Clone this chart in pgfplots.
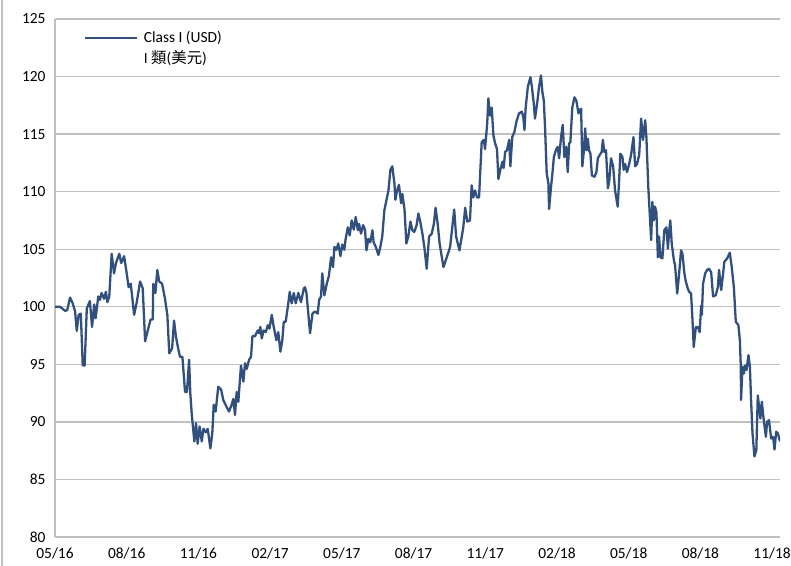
\documentclass[border=0pt]{standalone}
\usepackage{fontspec}
\setmainfont{Carlito}
\newfontfamily\cjk{Noto Sans CJK TC}
\usepackage{pgfplots}
\pgfplotsset{compat=1.18}
\definecolor{lineblue}{RGB}{50,80,125}
\definecolor{gridgray}{RGB}{192,192,192}
\pgfplotstableread{
x y
0.00 100.0
0.21 100.0
0.42 99.65
0.51 99.7
0.63 100.8
0.74 100.3
0.84 99.6
0.91 97.9
0.99 99.3
1.08 99.4
1.16 94.9
1.24 94.9
1.33 99.85
1.46 100.5
1.55 98.25
1.64 100.2
1.70 99.0
1.81 100.9
1.88 100.6
1.95 101.2
2.05 100.7
2.13 101.3
2.19 100.4
2.27 100.9
2.37 104.6
2.47 102.9
2.55 103.8
2.69 104.6
2.77 103.8
2.89 104.4
3.00 102.9
3.08 101.7
3.17 102.0
3.31 99.3
3.42 100.4
3.56 102.2
3.67 101.6
3.77 97.0
3.90 98.1
4.00 98.9
4.09 98.9
4.11 102.0
4.20 101.2
4.28 103.2
4.36 102.2
4.48 102.0
4.60 100.7
4.70 99.3
4.78 95.95
4.90 96.4
4.98 98.8
5.06 97.4
5.16 96.3
5.23 95.65
5.33 95.65
5.44 92.6
5.52 92.6
5.61 95.4
5.66 92.5
5.72 90.7
5.83 88.3
5.90 89.9
5.97 88.1
6.05 89.6
6.14 88.3
6.21 89.4
6.31 89.1
6.39 89.4
6.50 87.7
6.58 89.0
6.64 91.5
6.72 90.9
6.83 93.05
6.95 92.8
7.04 91.9
7.18 91.3
7.28 90.9
7.39 91.5
7.46 92.0
7.53 90.6
7.60 92.6
7.67 91.75
7.78 94.9
7.88 93.5
7.95 95.1
8.02 94.6
8.12 95.4
8.20 95.65
8.26 97.45
8.37 97.45
8.48 97.95
8.54 97.7
8.59 98.25
8.65 97.25
8.73 97.95
8.82 97.8
8.90 98.4
8.97 98.1
9.07 99.3
9.15 98.25
9.26 97.1
9.34 97.8
9.43 96.1
9.51 97.1
9.57 98.7
9.65 98.7
9.74 100.0
9.82 101.3
9.90 100.3
9.99 101.2
10.07 100.3
10.18 101.2
10.29 100.4
10.41 101.6
10.46 101.7
10.52 101.2
10.67 97.7
10.77 99.4
10.88 99.6
10.99 99.4
11.05 100.6
11.13 100.9
11.18 102.9
11.27 101.0
11.37 102.0
11.46 102.7
11.55 104.3
11.63 103.45
11.69 105.2
11.77 104.95
11.85 105.5
11.94 104.4
12.02 105.4
12.10 104.95
12.16 105.9
12.25 106.9
12.33 106.2
12.41 107.5
12.50 106.7
12.58 107.8
12.67 106.65
12.72 107.2
12.80 106.35
12.89 107.1
12.97 106.65
13.03 104.9
13.11 105.9
13.19 105.6
13.28 106.65
13.33 105.6
13.42 105.2
13.53 104.5
13.61 105.2
13.69 106.1
13.78 108.4
13.88 109.4
13.95 110.1
14.03 111.9
14.11 112.2
14.20 110.7
14.24 109.3
14.31 110.1
14.39 110.6
14.48 109.0
14.53 109.8
14.62 108.5
14.70 105.5
14.78 106.1
14.87 107.4
14.95 106.65
15.03 106.5
15.13 107.1
15.20 108.1
15.28 107.4
15.37 106.35
15.45 105.2
15.55 103.3
15.65 106.1
15.76 106.35
15.85 107.2
15.92 108.6
16.01 107.2
16.09 105.5
16.25 103.45
16.39 104.3
16.53 105.2
16.70 108.45
16.78 106.1
16.92 104.9
17.08 106.9
17.16 108.6
17.25 107.4
17.36 107.5
17.43 110.55
17.50 109.5
17.57 110.1
17.66 109.5
17.74 109.5
17.85 114.3
17.94 114.5
17.99 113.7
18.08 115.9
18.13 118.1
18.20 116.6
18.27 117.3
18.34 114.9
18.41 114.2
18.49 113.7
18.55 111.1
18.63 111.9
18.72 112.6
18.77 112.05
18.83 113.45
18.91 113.6
19.00 114.5
19.05 112.2
19.13 114.75
19.22 115.2
19.30 116.05
19.41 116.8
19.53 116.95
19.59 116.5
19.64 115.35
19.69 117.3
19.78 119.1
19.89 119.95
19.95 119.1
20.03 117.65
20.08 116.35
20.17 117.65
20.25 119.1
20.33 120.1
20.39 118.65
20.45 117.9
20.50 115.6
20.57 111.6
20.64 110.7
20.67 108.5
20.75 110.4
20.81 111.6
20.87 113.0
20.95 113.6
21.03 113.9
21.09 112.9
21.17 114.75
21.24 115.8
21.31 113.0
21.39 113.9
21.45 111.7
21.51 114.2
21.56 114.3
21.64 117.3
21.73 118.2
21.81 117.9
21.90 116.8
21.95 117.1
22.01 117.2
22.06 112.2
22.12 113.45
22.18 115.5
22.23 113.6
22.29 114.6
22.34 113.6
22.40 113.3
22.46 111.4
22.57 111.3
22.65 111.7
22.71 112.9
22.79 113.2
22.87 113.45
22.92 114.5
22.98 113.45
23.05 113.6
23.13 110.3
23.19 111.0
23.26 112.9
23.35 112.2
23.43 110.1
23.54 108.7
23.60 111.0
23.65 113.3
23.74 113.0
23.79 111.9
23.85 112.4
23.93 111.7
24.02 112.4
24.10 113.2
24.20 114.75
24.27 112.2
24.35 112.4
24.44 113.2
24.52 116.35
24.60 114.5
24.69 116.2
24.74 114.75
24.82 110.4
24.88 108.1
24.94 105.8
24.99 109.1
25.05 107.5
25.10 108.7
25.16 108.2
25.22 104.3
25.27 106.1
25.33 104.3
25.41 104.2
25.49 106.65
25.58 106.9
25.64 105.05
25.69 106.5
25.74 107.5
25.80 105.5
25.89 104.05
25.94 103.6
26.03 101.15
26.11 102.9
26.19 104.9
26.25 104.6
26.33 102.9
26.39 102.2
26.47 101.6
26.53 101.3
26.61 101.15
26.67 98.8
26.72 96.5
26.81 98.25
26.89 98.25
26.97 97.8
27.03 100.1
27.06 99.3
27.11 102.0
27.20 102.9
27.28 103.2
27.36 103.3
27.45 103.0
27.53 100.9
27.64 101.0
27.73 101.7
27.78 103.2
27.87 101.45
27.95 102.9
28.00 103.9
28.12 104.2
28.23 104.7
28.31 103.45
28.40 101.7
28.48 98.7
28.59 98.4
28.65 97.1
28.69 94.8
28.70 91.9
28.76 94.8
28.82 94.2
28.87 94.9
28.93 94.5
29.01 95.8
29.07 94.8
29.12 91.9
29.18 89.0
29.26 87.0
29.34 87.55
29.40 92.3
29.46 91.2
29.51 90.3
29.57 91.75
29.65 90.15
29.74 88.7
29.79 90.0
29.87 90.15
29.96 88.55
30.04 88.7
30.10 87.6
30.17 89.15
30.24 89.0
30.33 88.3
}\navdata
\begin{document}
\begin{tikzpicture}[font=\fontsize{15}{18}\selectfont]
\useasboundingbox (0,0) rectangle (791bp,566bp);
\draw[gridgray, line width=1.2pt] (2bp,0) -- (2bp,566bp);
\begin{axis}[
  at={(55bp,29bp)}, anchor=south west,
  scale only axis, width=725bp, height=518bp,
  xmin=0, xmax=30.33, ymin=80, ymax=125,
  xtick={0,3,...,30},
  xticklabels={05/16,08/16,11/16,02/17,05/17,08/17,11/17,02/18,05/18,08/18,11/18},
  ytick={80,85,...,125},
  axis x line*=bottom, axis y line*=left,
  axis line style={gridgray, line width=1.4pt},
  ymajorgrids, major grid style={gridgray, line width=1.4pt},
  major tick length=0pt,
  tick label style={font=\fontsize{15.5}{18}\selectfont},
  /pgf/number format/assume math mode=true,
  yticklabel style={xshift=-6bp},
  xticklabel style={yshift=-7bp},
  legend style={draw=none, fill=none, at={(0.035,0.984)}, anchor=north west,
    font=\fontsize{15.5}{18}\selectfont, row sep=2.5bp,
    /tikz/every odd column/.append style={column sep=4bp}},
  legend cell align=left,
  legend image code/.code={\draw[#1] (0bp,0bp) -- (52bp,0bp);},
]
\addplot[lineblue, line width=2.3pt, line join=round] table[x=x,y=y] {\navdata};
\addlegendentry{Class I (USD)}
\addlegendimage{empty legend}
\addlegendentry{I {\cjk 類}({\cjk 美元})}
\end{axis}
\end{tikzpicture}
\end{document}
